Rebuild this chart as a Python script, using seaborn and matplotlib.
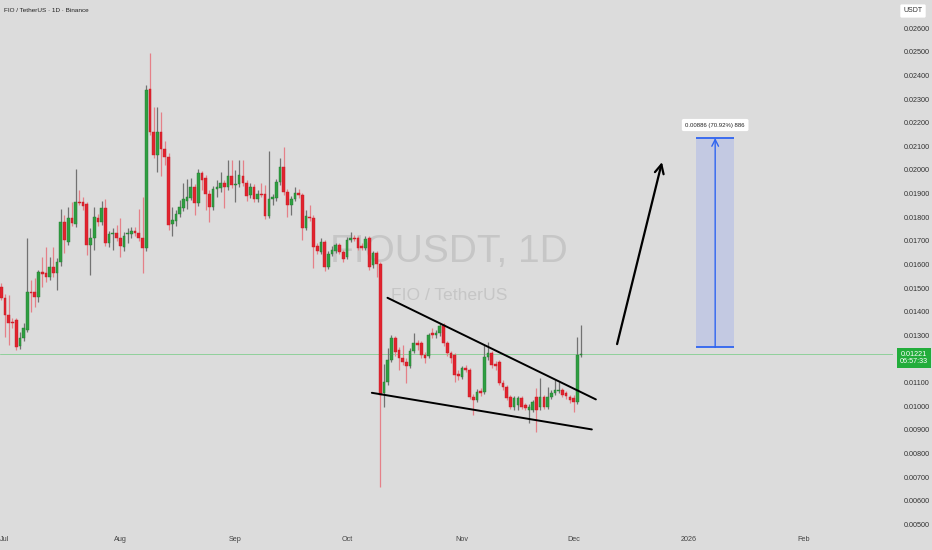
import numpy as np
import pandas as pd
import matplotlib
matplotlib.use("Agg")
import matplotlib.pyplot as plt
import matplotlib.dates as mdates
from matplotlib import font_manager
from matplotlib.patches import Rectangle
from matplotlib.transforms import blended_transform_factory
import seaborn as sns

# ---------------- data ----------------
start_date = "2025-06-30"

opens = [
    0.01504, 0.01458, 0.01386, 0.01356, 0.01365, 0.01255, 0.01289, 0.01322, 0.01483, 0.01483,
    0.01462, 0.01568, 0.01564, 0.01547, 0.01589, 0.01564, 0.01610, 0.01780, 0.01695, 0.01796,
    0.01771, 0.01864, 0.01864, 0.01856, 0.01682, 0.01712, 0.01796, 0.01780, 0.01839, 0.01691,
    0.01729, 0.01733, 0.01712, 0.01674, 0.01729, 0.01729, 0.01741, 0.01733, 0.01712, 0.01669,
    0.02342, 0.02160, 0.02063, 0.02160, 0.02088, 0.02055, 0.01771, 0.01784, 0.01813, 0.01839,
    0.01868, 0.01881, 0.01928, 0.01860, 0.01987, 0.01966, 0.01898, 0.01843, 0.01919, 0.01923,
    0.01945, 0.01928, 0.01974, 0.01938, 0.01940, 0.01974, 0.01945, 0.01894, 0.01928, 0.01877,
    0.01898, 0.01898, 0.01805, 0.01877, 0.01881, 0.01949, 0.02012, 0.01906, 0.01851, 0.01877,
    0.01902, 0.01894, 0.01754, 0.01801, 0.01796, 0.01678, 0.01653, 0.01695, 0.01589, 0.01644,
    0.01657, 0.01682, 0.01653, 0.01631, 0.01703, 0.01712, 0.01712, 0.01678, 0.01669, 0.01712,
    0.01597, 0.01648, 0.01602, 0.01056, 0.01103, 0.01195, 0.01289, 0.01238, 0.01204, 0.01187,
    0.01170, 0.01234, 0.01267, 0.01267, 0.01217, 0.01213, 0.01310, 0.01301, 0.01310, 0.01344,
    0.01267, 0.01225, 0.01217, 0.01136, 0.01124, 0.01162, 0.01153, 0.01039, 0.01026, 0.01064,
    0.01060, 0.01208, 0.01225, 0.01179, 0.01187, 0.01098, 0.01081, 0.01039, 0.00997, 0.01005,
    0.01035, 0.01005, 0.00984, 0.00984, 0.01039, 0.00997, 0.01039, 0.00997, 0.01039, 0.01056,
    0.01064, 0.01069, 0.01056, 0.01039, 0.01035, 0.01018, 0.01217,
]
highs = [
    0.01521, 0.01475, 0.01471, 0.01373, 0.01373, 0.01314, 0.01352, 0.01712, 0.01534, 0.01542,
    0.01576, 0.01631, 0.01674, 0.01631, 0.01674, 0.01627, 0.01834, 0.01809, 0.01843, 0.01864,
    0.02004, 0.01915, 0.01885, 0.01864, 0.01754, 0.01843, 0.01813, 0.01868, 0.01877, 0.01741,
    0.01754, 0.01767, 0.01796, 0.01737, 0.01754, 0.01758, 0.01758, 0.01834, 0.01885, 0.02359,
    0.02495, 0.02266, 0.02266, 0.02245, 0.02122, 0.02071, 0.01843, 0.01830, 0.01873, 0.01945,
    0.01961, 0.01966, 0.01940, 0.02004, 0.01995, 0.01978, 0.01915, 0.01932, 0.01957, 0.01991,
    0.01957, 0.02042, 0.02042, 0.01999, 0.02042, 0.02042, 0.01957, 0.01945, 0.01940, 0.01915,
    0.01945, 0.01936, 0.02080, 0.01898, 0.01961, 0.02050, 0.02097, 0.01919, 0.01890, 0.01928,
    0.01919, 0.01902, 0.01830, 0.01851, 0.01809, 0.01691, 0.01712, 0.01703, 0.01657, 0.01678,
    0.01691, 0.01691, 0.01661, 0.01716, 0.01737, 0.01725, 0.01720, 0.01691, 0.01720, 0.01720,
    0.01657, 0.01657, 0.01610, 0.01179, 0.01246, 0.01301, 0.01297, 0.01250, 0.01259, 0.01204,
    0.01246, 0.01310, 0.01280, 0.01276, 0.01229, 0.01310, 0.01331, 0.01322, 0.01352, 0.01352,
    0.01276, 0.01234, 0.01225, 0.01153, 0.01170, 0.01174, 0.01162, 0.01052, 0.01073, 0.01077,
    0.01259, 0.01272, 0.01234, 0.01191, 0.01195, 0.01111, 0.01090, 0.01047, 0.01043, 0.01043,
    0.01043, 0.01014, 0.01009, 0.01026, 0.01077, 0.01119, 0.01047, 0.01081, 0.01069, 0.01111,
    0.01103, 0.01077, 0.01064, 0.01047, 0.01047, 0.01293, 0.01344,
]
lows = [
    0.01449, 0.01293, 0.01259, 0.01331, 0.01238, 0.01242, 0.01276, 0.01314, 0.01399, 0.01420,
    0.01441, 0.01504, 0.01525, 0.01534, 0.01547, 0.01492, 0.01593, 0.01648, 0.01682, 0.01763,
    0.01758, 0.01851, 0.01830, 0.01640, 0.01555, 0.01661, 0.01763, 0.01767, 0.01678, 0.01674,
    0.01661, 0.01699, 0.01631, 0.01657, 0.01691, 0.01712, 0.01720, 0.01699, 0.01564, 0.01657,
    0.02148, 0.02050, 0.01991, 0.01974, 0.02021, 0.01746, 0.01720, 0.01763, 0.01801, 0.01826,
    0.01834, 0.01873, 0.01809, 0.01847, 0.01915, 0.01830, 0.01780, 0.01830, 0.01885, 0.01906,
    0.01839, 0.01915, 0.01923, 0.01864, 0.01928, 0.01932, 0.01868, 0.01881, 0.01864, 0.01864,
    0.01885, 0.01792, 0.01796, 0.01851, 0.01868, 0.01936, 0.01894, 0.01801, 0.01809, 0.01868,
    0.01881, 0.01703, 0.01746, 0.01784, 0.01585, 0.01644, 0.01644, 0.01572, 0.01581, 0.01636,
    0.01648, 0.01644, 0.01610, 0.01623, 0.01695, 0.01699, 0.01661, 0.01661, 0.01661, 0.01576,
    0.01585, 0.01547, 0.00658, 0.00997, 0.01090, 0.01187, 0.01213, 0.01153, 0.01174, 0.01098,
    0.01162, 0.01225, 0.01238, 0.01204, 0.01183, 0.01204, 0.01289, 0.01289, 0.01297, 0.01255,
    0.01213, 0.01183, 0.01103, 0.01111, 0.01115, 0.01145, 0.01031, 0.00963, 0.01018, 0.01043,
    0.01052, 0.01195, 0.01162, 0.01153, 0.01090, 0.01069, 0.01026, 0.00988, 0.00984, 0.00984,
    0.00988, 0.00984, 0.00929, 0.00975, 0.00891, 0.00984, 0.00988, 0.00988, 0.01031, 0.01047,
    0.01056, 0.01039, 0.01031, 0.01014, 0.00975, 0.01009, 0.01208,
]
closes = [
    0.01458, 0.01386, 0.01352, 0.01352, 0.01250, 0.01289, 0.01331, 0.01483, 0.01479, 0.01462,
    0.01568, 0.01559, 0.01547, 0.01589, 0.01564, 0.01610, 0.01780, 0.01703, 0.01796, 0.01775,
    0.01864, 0.01860, 0.01847, 0.01682, 0.01712, 0.01801, 0.01780, 0.01839, 0.01691, 0.01729,
    0.01733, 0.01712, 0.01678, 0.01720, 0.01733, 0.01741, 0.01733, 0.01712, 0.01669, 0.02338,
    0.02160, 0.02063, 0.02160, 0.02088, 0.02055, 0.01767, 0.01788, 0.01813, 0.01843, 0.01877,
    0.01885, 0.01928, 0.01860, 0.01987, 0.01957, 0.01898, 0.01843, 0.01919, 0.01928, 0.01945,
    0.01928, 0.01974, 0.01936, 0.01942, 0.01978, 0.01945, 0.01890, 0.01928, 0.01877, 0.01898,
    0.01894, 0.01805, 0.01877, 0.01885, 0.01949, 0.02012, 0.01906, 0.01851, 0.01877, 0.01902,
    0.01894, 0.01754, 0.01805, 0.01796, 0.01674, 0.01657, 0.01695, 0.01589, 0.01644, 0.01661,
    0.01682, 0.01653, 0.01623, 0.01703, 0.01712, 0.01708, 0.01669, 0.01669, 0.01708, 0.01589,
    0.01648, 0.01602, 0.01047, 0.01103, 0.01195, 0.01289, 0.01229, 0.01204, 0.01187, 0.01170,
    0.01234, 0.01267, 0.01259, 0.01217, 0.01204, 0.01301, 0.01301, 0.01310, 0.01339, 0.01267,
    0.01225, 0.01204, 0.01132, 0.01128, 0.01162, 0.01153, 0.01039, 0.01026, 0.01060, 0.01056,
    0.01208, 0.01225, 0.01174, 0.01170, 0.01098, 0.01081, 0.01035, 0.00997, 0.01035, 0.01035,
    0.00997, 0.00992, 0.00997, 0.01018, 0.00984, 0.01039, 0.00997, 0.01039, 0.01056, 0.01069,
    0.01069, 0.01047, 0.01043, 0.01026, 0.01018, 0.01217, 0.01221,
]

current_price = 0.01221
countdown = "06:57:33"

y_ticks = [0.005, 0.006, 0.007, 0.008, 0.009, 0.010, 0.011, 0.013, 0.014, 0.015,
           0.016, 0.017, 0.018, 0.019, 0.020, 0.021, 0.022, 0.023, 0.024, 0.025, 0.026]
x_tick_dates = ["2025-07-01", "2025-08-01", "2025-09-01", "2025-10-01",
                "2025-11-01", "2025-12-01", "2026-01-01", "2026-02-01"]
x_tick_labels = ["Jul", "Aug", "Sep", "Oct", "Nov", "Dec", "2026", "Feb"]

# drawings (date, price)
upper_line_dates = ["2025-10-11 22:00", "2025-12-07 00:00"]
upper_line_prices = [0.01459, 0.01029]
lower_line_dates = ["2025-10-07 17:00", "2025-12-05 22:00"]
lower_line_prices = [0.01057, 0.00902]
arrow_dates = ["2025-12-12 17:00", "2025-12-24 19:00"]
arrow_prices = [0.01263, 0.02033]
range_dates = ["2026-01-03 00:00", "2026-01-13 05:00"]
range_prices = [0.01249, 0.02135]
range_label = "0.00886 (70.92%) 886"

x_limits = ["2025-06-29 15:30", "2026-02-24 23:00"]
y_limits = [0.00468, 0.02719]

# ---------------- style ----------------
BG = "#dcdcdc"
UP = "#2f9e41"
UP_EDGE = "#23782f"
DOWN = "#e2232e"
DOWN_EDGE = "#c01c26"
UP_WICK = "#727272"
DOWN_WICK = "#e58088"

names = {f.name for f in font_manager.fontManager.ttflist}
NARROW = "Liberation Sans Narrow" if "Liberation Sans Narrow" in names else "Liberation Sans"

sns.set_theme(style="white")
plt.rcParams["font.family"] = [NARROW, "DejaVu Sans"]

fig = plt.figure(figsize=(9.32, 5.5), dpi=100, facecolor=BG)
ax = fig.add_axes([0, 18 / 550, 893 / 932, 532 / 550], facecolor=BG)

o = np.array(opens)
h = np.array(highs)
l = np.array(lows)
c = np.array(closes)
dates = pd.date_range(start_date, periods=len(c), freq="D")
xd = mdates.date2num(dates)
up = c >= o

ax.vlines(xd, l, h, colors=np.where(up, UP_WICK, DOWN_WICK), lw=0.9, zorder=2)
ax.bar(xd, np.maximum(np.abs(c - o), 0.00003), bottom=np.minimum(o, c), width=0.72,
       color=np.where(up, UP, DOWN), edgecolor=np.where(up, UP_EDGE, DOWN_EDGE),
       linewidth=0.3, zorder=3)

# current price line
ax.axhline(current_price, color="#8fd09a", lw=0.7, zorder=1)

# trend lines (falling wedge)
ul_x = mdates.date2num(pd.to_datetime(upper_line_dates))
ll_x = mdates.date2num(pd.to_datetime(lower_line_dates))
sns.lineplot(x=ul_x, y=upper_line_prices, color="black", lw=1.4, ax=ax, sort=False, zorder=4)
sns.lineplot(x=ll_x, y=lower_line_prices, color="black", lw=1.4, ax=ax, sort=False, zorder=4)

# arrow
ar_x = mdates.date2num(pd.to_datetime(arrow_dates))
ax.annotate("", xy=(ar_x[1], arrow_prices[1]), xytext=(ar_x[0], arrow_prices[0]),
            arrowprops=dict(arrowstyle="->", color="black", lw=1.6, mutation_scale=16,
                            shrinkA=0, shrinkB=0), zorder=5)

# price range tool
rx = mdates.date2num(pd.to_datetime(range_dates))
ax.add_patch(Rectangle((rx[0], range_prices[0]), rx[1] - rx[0], range_prices[1] - range_prices[0],
                       facecolor="#c3c9e2", edgecolor="none", zorder=1))
ax.hlines(range_prices, rx[0], rx[1], colors="#2f64f0", lw=1.3, zorder=2)
rmid = (rx[0] + rx[1]) / 2
ax.annotate("", xy=(rmid, range_prices[1]), xytext=(rmid, range_prices[0]),
            arrowprops=dict(arrowstyle="->", color="#2f64f0", lw=1.0, mutation_scale=12,
                            shrinkA=0, shrinkB=0), zorder=2)
ax.annotate(range_label, xy=(rmid, range_prices[1]), xytext=(0, 13), textcoords="offset pixels",
            ha="center", va="center", fontsize=4.3, color="#222222",
            bbox=dict(boxstyle="round,pad=0.6,rounding_size=0.3", fc="white", ec="none"), zorder=6)

# watermark
ax.text(0.503, 0.5075, "FIOUSDT, 1D", transform=ax.transAxes, ha="center", va="baseline",
        fontsize=28, color="#c6c6c6", zorder=0)
ax.text(0.503, 0.436, "FIO / TetherUS", transform=ax.transAxes, ha="center", va="baseline",
        fontsize=12.6, color="#c6c6c6", zorder=0)

# axes
ax.set_xlim(mdates.date2num(pd.to_datetime(x_limits)))
ax.set_ylim(y_limits)
ax.set_xticks(mdates.date2num(pd.to_datetime(x_tick_dates)))
ax.set_xticklabels(x_tick_labels)
ax.set_yticks(y_ticks)
ax.set_yticklabels([f"{v:.5f}" for v in y_ticks])
ax.yaxis.tick_right()
ax.tick_params(axis="y", length=0, labelsize=5.2, pad=8, colors="#333333")
ax.tick_params(axis="x", length=0, labelsize=5.2, pad=3, colors="#444444")
ax.grid(False)
for s in ax.spines.values():
    s.set_visible(False)

# current price label
trans = blended_transform_factory(ax.transAxes, ax.transData)
ax.annotate(f"{current_price:.5f}\n{countdown}", xy=(1.0235, current_price), xycoords=trans,
            xytext=(0, -4), textcoords="offset pixels", ha="center", va="center",
            fontsize=5.2, color="white", linespacing=1.15, annotation_clip=False,
            bbox=dict(boxstyle="square,pad=0.35", fc="#22ad3b", ec="none"), zorder=10)

# header and unit box
fig.text(4 / 932, 1 - 10 / 550, "FIO / TetherUS · 1D · Binance", ha="left", va="center",
         fontsize=4.6, color="#222222")
fig.text(913 / 932, 1 - 11 / 550, "USDT", ha="center", va="center", fontsize=5, color="#333333",
         bbox=dict(boxstyle="round,pad=0.45,rounding_size=0.2", fc="white", ec="none"))

fig.savefig("out.png", dpi=100, facecolor=BG)
